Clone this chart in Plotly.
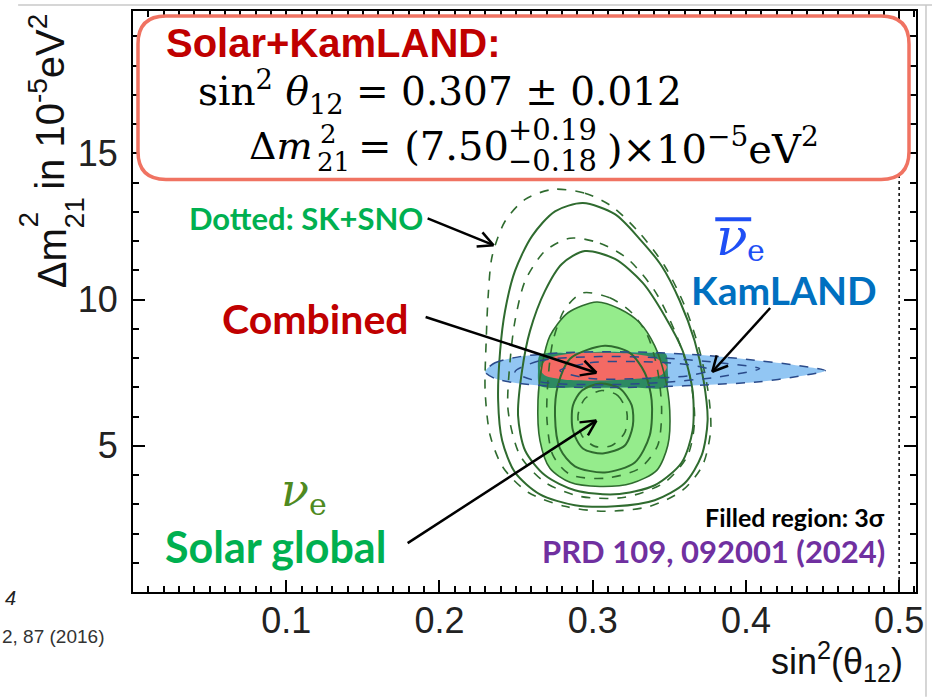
import math
import plotly.graph_objects as go

# ---------------- data ----------------
# Solar global, outermost dashed contour (SK+SNO)
D3_X = [0.2741, 0.2949, 0.3125, 0.3307, 0.3470, 0.3600, 0.3698, 0.3757, 0.3770, 0.3717, 0.3587, 0.3372,
        0.3079, 0.2819, 0.2578, 0.2415, 0.2331, 0.2298, 0.2305, 0.2318, 0.2344, 0.2428, 0.2559]
D3_Y = [13.77, 13.64, 13.19, 12.27, 11.15, 9.79, 8.25, 6.72, 5.52, 4.33, 3.48, 2.93,
        2.76, 2.93, 3.41, 4.26, 5.35, 6.89, 8.59, 10.13, 11.49, 12.68, 13.43]
# outer solid contour
S3_X = [0.2936, 0.3145, 0.3307, 0.3450, 0.3568, 0.3665, 0.3724, 0.3750, 0.3711, 0.3600, 0.3405,
        0.3145, 0.2884, 0.2656, 0.2493, 0.2409, 0.2383, 0.2396, 0.2428, 0.2493, 0.2604, 0.2754]
S3_Y = [13.30, 12.92, 12.07, 11.15, 9.96, 8.59, 7.23, 5.86, 4.67, 3.72, 3.14,
        2.93, 2.97, 3.34, 4.09, 5.18, 6.55, 8.25, 9.61, 10.98, 12.17, 13.02]
# second dashed contour
D2_X = [0.2852, 0.3047, 0.3229, 0.3405, 0.3535, 0.3633, 0.3665, 0.3620, 0.3470, 0.3210,
        0.2917, 0.2689, 0.2526, 0.2448, 0.2461, 0.2493, 0.2559, 0.2689]
D2_Y = [12.10, 11.93, 11.39, 10.30, 8.93, 7.40, 5.86, 4.67, 3.75, 3.24,
        3.27, 3.75, 4.67, 6.21, 7.91, 9.27, 10.64, 11.66]
# second solid contour
S2_X = [0.2949, 0.3145, 0.3327, 0.3470, 0.3587, 0.3652, 0.3652, 0.3581, 0.3405, 0.3145,
        0.2884, 0.2689, 0.2559, 0.2513, 0.2539, 0.2591, 0.2689, 0.2799]
S2_Y = [11.66, 11.39, 10.57, 9.44, 8.25, 6.89, 5.52, 4.43, 3.65, 3.34,
        3.48, 3.99, 4.84, 6.03, 7.57, 8.93, 10.30, 11.22]
# filled region (3 sigma)
F_X = [0.3027, 0.3177, 0.3307, 0.3405, 0.3470, 0.3503, 0.3490, 0.3418, 0.3255, 0.3047,
       0.2852, 0.2721, 0.2656, 0.2643, 0.2669, 0.2721, 0.2839]
F_Y = [9.92, 9.68, 9.21, 8.42, 7.40, 6.21, 5.01, 4.16, 3.72, 3.61,
       3.75, 4.23, 5.18, 6.55, 7.74, 8.76, 9.55]
# inner dashed contour
D1_X = [0.2936, 0.3112, 0.3255, 0.3359, 0.3424, 0.3450, 0.3424, 0.3307, 0.3079, 0.2852,
        0.2741, 0.2702, 0.2708, 0.2741, 0.2819]
D1_Y = [10.23, 10.06, 9.55, 8.76, 7.57, 6.21, 5.01, 4.23, 3.89, 4.02,
        4.67, 5.86, 7.23, 8.59, 9.68]
# inner solid contour
S1_X = [0.3079, 0.3242, 0.3340, 0.3385, 0.3372, 0.3275, 0.3079, 0.2884, 0.2786, 0.2754, 0.2773, 0.2852]
S1_Y = [8.42, 8.18, 7.50, 6.55, 5.35, 4.43, 4.09, 4.30, 4.91, 6.03, 7.06, 7.98]
# innermost solid contour
S0_X = [0.3047, 0.3177, 0.3255, 0.3262, 0.3210, 0.3066, 0.2936, 0.2871, 0.2871, 0.2930]
S0_Y = [7.13, 6.96, 6.38, 5.69, 5.01, 4.74, 4.91, 5.52, 6.38, 6.89]
# innermost dashed contour
D0_X = [0.3060, 0.3164, 0.3223, 0.3210, 0.3125, 0.3014, 0.2930, 0.2904, 0.2949]
D0_Y = [6.89, 6.72, 6.14, 5.46, 5.01, 4.98, 5.35, 6.03, 6.61]

# KamLAND region
K_X = [0.2298, 0.2363, 0.2526, 0.2786, 0.3112, 0.3438, 0.3763, 0.4089, 0.4349, 0.4518,
       0.4349, 0.4089, 0.3763, 0.3438, 0.3112, 0.2786, 0.2526, 0.2363]
K_Y = [7.53, 7.84, 8.05, 8.18, 8.22, 8.18, 8.08, 7.91, 7.74, 7.57,
       7.38, 7.19, 7.09, 7.02, 6.99, 7.02, 7.13, 7.30]
# overlap of KamLAND and solar filled region
T_X = [0.2656, 0.2852, 0.3112, 0.3372, 0.3477, 0.3490, 0.3483, 0.3242, 0.2917, 0.2656, 0.2643]
T_Y = [8.11, 8.18, 8.22, 8.18, 8.15, 7.57, 7.02, 6.99, 6.99, 7.06, 7.57]
# KamLAND inner dashed contours
KD2_X = [0.2493, 0.2656, 0.3047, 0.3438, 0.3828, 0.4089, 0.3828, 0.3438, 0.3047, 0.2656]
KD2_Y = [7.53, 7.91, 8.05, 8.01, 7.84, 7.64, 7.36, 7.16, 7.09, 7.19]
KD1_X = [0.2786, 0.2982, 0.3307, 0.3633, 0.3763, 0.3633, 0.3307, 0.2982]
KD1_Y = [7.57, 7.84, 7.88, 7.77, 7.60, 7.40, 7.30, 7.30]
# combined region
R_X = [0.2656, 0.2708, 0.2852, 0.3047, 0.3242, 0.3405, 0.3483, 0.3451, 0.3307, 0.3047, 0.2819, 0.2689]
R_Y = [7.64, 7.98, 8.15, 8.18, 8.15, 8.01, 7.71, 7.43, 7.30, 7.23, 7.26, 7.40]

MAX_MIXING = 0.5          # dotted vertical line
X_TICKS = [0.1, 0.2, 0.3, 0.4, 0.5]
X_TICK_TEXT = ["0.1", "0.2", "0.3", "0.4", "0.5"]
Y_TICKS = [5, 10, 15]
Y_TICK_TEXT = ["5", "10", "15"]
X_RANGE = [0, 0.511]
Y_RANGE = [0, 19.87]

# ---------------- layout geometry ----------------
W, H = 933, 697
L, R, T, B = 133, 917, 9, 592
ARIAL = "Liberation Sans"
CAL = "Lato"
SERIF = "DejaVu Serif"
DGREEN = "#2f6b2f"
SMOOTH = 0.8


def pp(px, py):
    return (px - L) / (R - L), (B - py) / (B - T)


def closed(xs, ys):
    return list(xs) + [xs[0]], list(ys) + [ys[0]]


fig = go.Figure()


def fill(xs, ys, color):
    cx, cy = closed(xs, ys)
    fig.add_trace(go.Scatter(x=cx, y=cy, mode="lines", fill="toself", fillcolor=color,
                             line=dict(color=color, width=0, shape="spline", smoothing=SMOOTH),
                             hoverinfo="skip", showlegend=False))


def outline(xs, ys, color, width, dash):
    cx, cy = closed(xs, ys)
    fig.add_trace(go.Scatter(x=cx, y=cy, mode="lines",
                             line=dict(color=color, width=width, dash=dash, shape="spline", smoothing=SMOOTH),
                             hoverinfo="skip", showlegend=False))


fill(F_X, F_Y, "#95ec8c")
fill(K_X, K_Y, "#92c6f3")
fill(T_X, T_Y, "#2c8a62")
fill(R_X, R_Y, "#f46a64")

outline(D3_X, D3_Y, DGREEN, 1.6, "dash")
outline(S3_X, S3_Y, DGREEN, 2, "solid")
outline(D2_X, D2_Y, DGREEN, 1.6, "dash")
outline(S2_X, S2_Y, DGREEN, 2, "solid")
outline(F_X, F_Y, DGREEN, 1.6, "solid")
outline(D1_X, D1_Y, DGREEN, 1.6, "dash")
outline(S1_X, S1_Y, DGREEN, 2, "solid")
outline(D0_X, D0_Y, DGREEN, 1.6, "dash")
outline(S0_X, S0_Y, DGREEN, 2, "solid")
outline(K_X, K_Y, "#2a4a8a", 1.5, "dash")
outline(KD2_X, KD2_Y, "#2a4a8a", 1.5, "dash")
outline(KD1_X, KD1_Y, "#2a4a8a", 1.5, "dash")

fig.add_trace(go.Scatter(x=[MAX_MIXING, MAX_MIXING], y=Y_RANGE, mode="lines",
                         line=dict(color="black", width=1.5, dash="dot"),
                         hoverinfo="skip", showlegend=False))

shapes = []
annotations = []

# rounded result box
bx0, by0 = pp(138, 14)
bx1, by1 = pp(910, 178)
rx, ry = 28 / (R - L), 28 / (B - T)
path = (f"M{bx0+rx},{by0} L{bx1-rx},{by0} Q{bx1},{by0} {bx1},{by0-ry} "
        f"L{bx1},{by1+ry} Q{bx1},{by1} {bx1-rx},{by1} L{bx0+rx},{by1} "
        f"Q{bx0},{by1} {bx0},{by1+ry} L{bx0},{by0-ry} Q{bx0},{by0} {bx0+rx},{by0} Z")
shapes.append(dict(type="path", path=path, xref="paper", yref="paper", layer="above",
                   line=dict(color="#f07362", width=3.5), fillcolor="white"))

# slide edges
ex0, ey0 = pp(18, 3)
ex1, ey1 = pp(933, 3)
shapes.append(dict(type="line", xref="paper", yref="paper", x0=ex0, y0=ey0, x1=ex1, y1=ey1,
                   line=dict(color="#c8c8c8", width=1.5)))
vx0, vy0 = pp(927, 3)
vx1, vy1 = pp(927, 697)
shapes.append(dict(type="line", xref="paper", yref="paper", x0=vx0, y0=vy0, x1=vx1, y1=vy1,
                   line=dict(color="#c8c8c8", width=1.5)))


def arrow(tail, head, color="black", width=2.5, hl=17, ang=27):
    tx, ty = tail
    hx, hy = head
    a = math.atan2(hy - ty, hx - tx)
    pts = [(tail, head)]
    for s in (1, -1):
        b = a + math.pi + s * math.radians(ang)
        pts.append((head, (hx + hl * math.cos(b), hy + hl * math.sin(b))))
    for p0, p1 in pts:
        x0, y0 = pp(*p0)
        x1, y1 = pp(*p1)
        shapes.append(dict(type="line", xref="paper", yref="paper", x0=x0, y0=y0, x1=x1, y1=y1,
                           line=dict(color=color, width=width), layer="above"))


arrow((428, 217), (494, 244))
arrow((426, 316), (597, 372))
arrow((408, 543), (597, 420))
arrow((771, 307), (713, 371))

# overline of anti-neutrino
ox0, oy0 = pp(716, 218)
ox1, oy1 = pp(752, 218)
shapes.append(dict(type="line", xref="paper", yref="paper", x0=ox0, y0=oy0, x1=ox1, y1=oy1,
                   line=dict(color="#1f4ff5", width=4), layer="above"))


def txt(text, px, py, size, color="black", family=ARIAL, xanchor="left", yanchor="middle", angle=0):
    x, y = pp(px, py)
    annotations.append(dict(text=text, x=x, y=y, xref="paper", yref="paper", showarrow=False,
                            xanchor=xanchor, yanchor=yanchor, textangle=angle,
                            font=dict(size=size, color=color, family=family)))


# box contents
txt("<b>Solar+KamLAND:</b>", 164, 41, 40, "#c00000", ARIAL)
txt("sin<sup>2</sup> <i>θ</i><sub>12</sub> = 0.307 ± 0.012", 196, 90, 39, "black", SERIF)
txt("Δ<i>m</i>", 247, 144, 38, "black", SERIF)
txt("2", 318, 132, 26, "black", SERIF)
txt("21", 315, 161, 26, "black", SERIF)
txt("= (7.50", 356, 144, 40, "black", SERIF)
txt("+0.19", 506, 128, 29, "black", SERIF)
txt("−0.18", 506, 160, 29, "black", SERIF)
txt(")×10<sup>−5</sup>eV<sup>2</sup>", 606, 144, 40, "black", SERIF)

# labels
txt("<b>Dotted: SK+SNO</b>", 425, 217, 31, "#00b050", CAL, xanchor="right")
txt("<b>Combined</b>", 411, 318, 41, "#c00000", CAL, xanchor="right")
txt("<b>KamLAND</b>", 880, 289, 39, "#0070c0", CAL, xanchor="right")
txt("<i>ν</i>", 733, 236, 52, "#1f4ff5", SERIF, xanchor="center")
txt("e", 757, 249, 30, "#1f4ff5", SERIF, xanchor="center")
txt("<i>ν</i>", 295, 490, 46, "#4f8a1f", SERIF, xanchor="center")
txt("e", 318, 504, 30, "#4f8a1f", SERIF, xanchor="center")
txt("<b>Solar global</b>", 388, 546, 43, "#00b050", CAL, xanchor="right")
txt("<b>Filled region: 3σ</b>", 888, 517, 25, "black", CAL, xanchor="right")
txt("<b>PRD 109, 092001 (2024)</b>", 888, 551, 31, "#7030a0", CAL, xanchor="right")

# axis titles
txt("sin<sup>2</sup>(θ<sub>12</sub>)", 906, 662, 36, "#111111", ARIAL, xanchor="right")
txt("Δm", 52, 257, 40, "#111111", ARIAL, xanchor="center", angle=-90)
txt("2", 28, 218, 28, "#111111", ARIAL, xanchor="center", angle=-90)
txt("21", 74, 212, 28, "#111111", ARIAL, xanchor="center", angle=-90)
txt("in 10<sup>-5</sup>eV<sup>2</sup>", 47, 100, 40, "#111111", ARIAL, xanchor="center", angle=-90)

# slide fragments
txt("<i>4</i>", 3, 598, 20, "#222222", ARIAL)
txt("2, 87 (2016)", 0, 637, 19, "#333333", ARIAL)

axis_common = dict(showline=True, linecolor="black", linewidth=2, mirror="ticks",
                   ticks="inside", ticklen=12, tickwidth=1.8, tickcolor="black",
                   showgrid=False, zeroline=False,
                   tickfont=dict(family=ARIAL, size=36, color="#222222"))

fig.update_layout(
    width=W, height=H,
    margin=dict(l=L, r=W - R, t=T, b=H - B),
    paper_bgcolor="white", plot_bgcolor="white",
    showlegend=False,
    xaxis=dict(range=X_RANGE, tickvals=X_TICKS, ticktext=X_TICK_TEXT,
               minor=dict(ticks="inside", ticklen=6, tickwidth=1.5, dtick=0.01, tickcolor="black"),
               ticklabelstandoff=-4, **axis_common),
    yaxis=dict(range=Y_RANGE, tickvals=Y_TICKS, ticktext=Y_TICK_TEXT,
               minor=dict(ticks="inside", ticklen=6, tickwidth=1.5, dtick=1, tickcolor="black"),
               ticklabelstandoff=6, **axis_common),
    shapes=shapes, annotations=annotations,
)

fig.write_html("out.html")
